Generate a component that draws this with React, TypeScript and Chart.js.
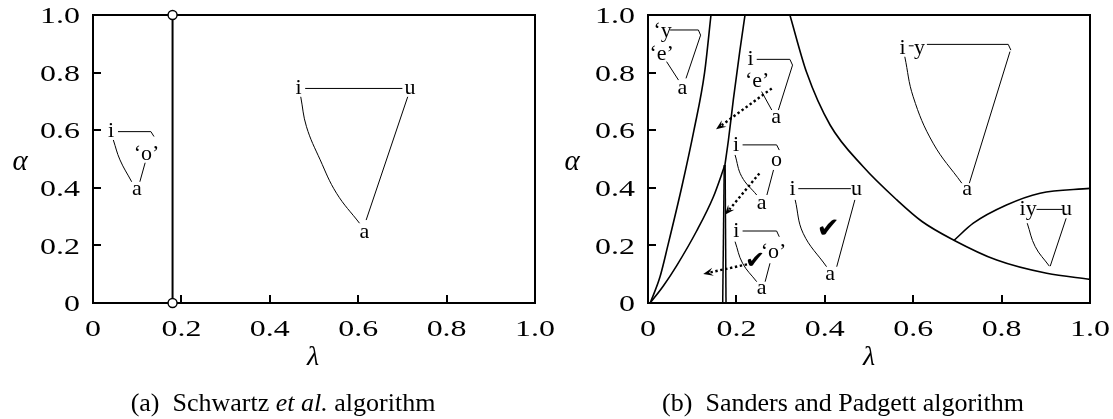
import React, { useEffect, useRef } from "react";
import { Chart, registerables } from "chart.js";
Chart.register(...registerables);

type P = [number, number];

const TICK_VALUES = [0, 0.2, 0.4, 0.6, 0.8, 1.0];
const INNER_TICKS = [0.2, 0.4, 0.6, 0.8];

// ---------- panel (a) ----------
const schwartzBoundary: P[] = [[0.18, 0], [0.18, 1.0]];
const schwartzCircles: P[] = [[0.18, 0], [0.18, 1.0]];
const aSmallTop: P[] = [[0.0565, 0.595], [0.131, 0.595], [0.138, 0.578]];
const aSmallLeft: P[] = [[0.046, 0.566], [0.061, 0.497], [0.0875, 0.421]];
const aSmallRight: P[] = [[0.118, 0.487], [0.106, 0.421]];
const aBigTop: P[] = [[0.48, 0.745], [0.70, 0.745]];
const aBigLeft: P[] = [[0.47, 0.716], [0.483, 0.612], [0.514, 0.497], [0.551, 0.381], [0.603, 0.277]];
const aBigRight: P[] = [[0.712, 0.716], [0.618, 0.288]];
const aLabels: [string, number, number][] = [
  ["i", 0.041, 0.595],
  ["\u2018o\u2019", 0.121, 0.514],
  ["a", 0.099, 0.392],
  ["i", 0.465, 0.745],
  ["u", 0.717, 0.745],
  ["a", 0.614, 0.243],
];

// ---------- panel (b) ----------
const bOuterCurve: P[] = [[0.005, 0], [0.027, 0.09], [0.045, 0.2], [0.076, 0.4], [0.104, 0.6], [0.128, 0.8], [0.1425, 1.0]];
const bInnerLower: P[] = [[0.005, 0], [0.035, 0.06], [0.065, 0.13], [0.11, 0.25], [0.148, 0.369], [0.174, 0.479]];
const bInnerUpper: P[] = [[0.174, 0.479], [0.182, 0.566], [0.193, 0.705], [0.208, 0.878], [0.2195, 1.0]];
const bVertLeft: P[] = [[0.1725, 0.479], [0.169, 0]];
const bVertRight: P[] = [[0.1745, 0.479], [0.1765, 0]];
const bDecreasing: P[] = [[0.321, 1.0], [0.359, 0.8], [0.412, 0.618], [0.487, 0.473], [0.563, 0.358], [0.62, 0.283], [0.691, 0.219], [0.789, 0.149], [0.902, 0.103], [1.0, 0.082]];
const bBranch: P[] = [[0.692, 0.217], [0.736, 0.277], [0.811, 0.34], [0.887, 0.381], [1.0, 0.398]];

const bTri1Top: P[] = [[0.05, 0.948], [0.114, 0.948], [0.119, 0.93]];
const bTri1Right: P[] = [[0.119, 0.93], [0.086, 0.78]];
const bTri1Left: P[] = [[0.042, 0.838], [0.069, 0.774]];
const bTri2Top: P[] = [[0.246, 0.846], [0.321, 0.846], [0.327, 0.826]];
const bTri2Right: P[] = [[0.327, 0.826], [0.295, 0.67]];
const bTri2Left: P[] = [[0.257, 0.734], [0.28, 0.67]];
const bTri3Top: P[] = [[0.214, 0.549], [0.291, 0.549], [0.297, 0.531]];
const bTri3Left: P[] = [[0.197, 0.514], [0.212, 0.439], [0.246, 0.375]];
const bTri3Right: P[] = [[0.284, 0.462], [0.269, 0.375]];
const bTri4Top: P[] = [[0.214, 0.25], [0.291, 0.25], [0.297, 0.23]];
const bTri4Left: P[] = [[0.197, 0.213], [0.214, 0.138], [0.246, 0.074]];
const bTri4Right: P[] = [[0.276, 0.138], [0.265, 0.074]];
const bTri5Top: P[] = [[0.34, 0.397], [0.459, 0.397]];
const bTri5Left: P[] = [[0.333, 0.358], [0.351, 0.242], [0.404, 0.126]];
const bTri5Right: P[] = [[0.468, 0.358], [0.427, 0.126]];
const bTri6Dash: P[] = [[0.59, 0.893], [0.601, 0.893]];
const bTri6Top: P[] = [[0.631, 0.898], [0.815, 0.898], [0.821, 0.878]];
const bTri6Left: P[] = [[0.581, 0.855], [0.6, 0.716], [0.645, 0.555], [0.71, 0.416]];
const bTri6Right: P[] = [[0.819, 0.873], [0.727, 0.416]];
const bTri7Top: P[] = [[0.879, 0.325], [0.938, 0.325]];
const bTri7Left: P[] = [[0.858, 0.277], [0.876, 0.196], [0.908, 0.128]];
const bTri7Right: P[] = [[0.946, 0.294], [0.91, 0.128]];

const bLabels: [string, number, number][] = [
  ["\u2018y", 0.033, 0.942],
  ["\u2018e\u2019", 0.031, 0.861],
  ["a", 0.078, 0.743],
  ["i", 0.232, 0.844],
  ["\u2018e\u2019", 0.247, 0.768],
  ["a", 0.29, 0.645],
  ["i", 0.199, 0.545],
  ["o", 0.291, 0.494],
  ["a", 0.257, 0.346],
  ["i", 0.2, 0.248],
  ["\u2018o\u2019", 0.284, 0.173],
  ["a", 0.257, 0.051],
  ["i", 0.327, 0.395],
  ["u", 0.472, 0.395],
  ["a", 0.412, 0.097],
  ["i", 0.576, 0.884],
  ["y", 0.614, 0.884],
  ["a", 0.722, 0.392],
  ["iy", 0.86, 0.323],
  ["u", 0.947, 0.323],
];
const bArrows: [P, P][] = [
  [[0.28, 0.745], [0.154, 0.603]],
  [[0.252, 0.45], [0.174, 0.306]],
  [[0.235, 0.138], [0.125, 0.101]],
];
const bChecks: [number, number, number][] = [
  [0.242, 0.143, 24],
  [0.408, 0.253, 28],
];

// ---------- helpers ----------
const SERIF = '"Liberation Serif", "Times New Roman", serif';
const LABEL_SIZE = 22;
const TICK_SIZE = 24;
const TICK_STRETCH = 1.33;

const pts = (a: P[]) => a.map(([x, y]) => ({ x, y }));
function line(data: P[], width: number, tension = 0, mono = false): any {
  return {
    data: pts(data),
    showLine: true,
    borderColor: "#000",
    borderWidth: width,
    pointRadius: 0,
    fill: false,
    tension,
    cubicInterpolationMode: mono ? "monotone" : "default",
  };
}
const fmt = (v: any) => (Number(v) === 0 ? "0" : Number(v).toFixed(1));

function decor(cfg: { labels: [string, number, number][]; arrows: [P, P][]; checks: [number, number, number][]; circles: P[] }) {
  return {
    id: "decor",
    afterDatasetsDraw(chart: any) {
      const { ctx, chartArea: ca } = chart;
      const xs = chart.scales.x;
      const ys = chart.scales.y;
      const X = (v: number) => xs.getPixelForValue(v);
      const Y = (v: number) => ys.getPixelForValue(v);
      ctx.save();
      // labels
      ctx.fillStyle = "#000";
      ctx.font = `${LABEL_SIZE}px ${SERIF}`;
      ctx.textAlign = "center";
      ctx.textBaseline = "alphabetic";
      for (const [t, lx, ly] of cfg.labels) ctx.fillText(t, X(lx), Y(ly) + LABEL_SIZE * 0.24);
      // checks
      for (const [cx, cy, size] of cfg.checks) {
        ctx.font = `${size}px "DejaVu Sans"`;
        ctx.textBaseline = "middle";
        ctx.fillText("\u2714", X(cx), Y(cy));
      }
      // dotted arrows
      for (const [[x1, y1], [x2, y2]] of cfg.arrows) {
        const ax = X(x1), ay = Y(y1), bx = X(x2), by = Y(y2);
        const ang = Math.atan2(by - ay, bx - ax);
        const hl = 10;
        const ex = bx - Math.cos(ang) * hl * 0.7, ey = by - Math.sin(ang) * hl * 0.7;
        ctx.strokeStyle = "#000";
        ctx.lineWidth = 2.4;
        ctx.setLineDash([2.4, 2.6]);
        ctx.beginPath();
        ctx.moveTo(ax, ay);
        ctx.lineTo(ex, ey);
        ctx.stroke();
        ctx.setLineDash([]);
        const c = Math.cos(ang), s = Math.sin(ang);
        ctx.beginPath();
        ctx.moveTo(bx, by);
        ctx.lineTo(bx - c * hl + s * 4, by - s * hl - c * 4);
        ctx.lineTo(bx - c * hl * 0.6, by - s * hl * 0.6);
        ctx.lineTo(bx - c * hl - s * 4, by - s * hl + c * 4);
        ctx.closePath();
        ctx.fill();
      }
      // frame
      ctx.strokeStyle = "#000";
      ctx.lineWidth = 2;
      ctx.strokeRect(ca.left, ca.top, ca.right - ca.left, ca.bottom - ca.top);
      // inward ticks
      ctx.beginPath();
      for (const v of INNER_TICKS) {
        const px = Math.round(X(v));
        ctx.moveTo(px, ca.bottom);
        ctx.lineTo(px, ca.bottom - 8);
        const py = Math.round(Y(v));
        ctx.moveTo(ca.left, py);
        ctx.lineTo(ca.left + 8, py);
      }
      ctx.stroke();
      // tick labels from the scales' ticks (stretched serif as in the reference)
      ctx.font = `${TICK_SIZE}px ${SERIF}`;
      ctx.textBaseline = "alphabetic";
      ctx.fillStyle = "#000";
      const base = TICK_SIZE * 0.338;
      ctx.textAlign = "center";
      for (const t of xs.ticks) {
        ctx.save();
        ctx.translate(X(t.value), ca.bottom + 25 + base);
        ctx.scale(TICK_STRETCH, 1);
        ctx.fillText(fmt(t.value), 0, 0);
        ctx.restore();
      }
      ctx.textAlign = "right";
      for (const t of ys.ticks) {
        ctx.save();
        ctx.translate(ca.left - 13, Y(t.value) + base);
        ctx.scale(TICK_STRETCH, 1);
        ctx.fillText(fmt(t.value), 0, 0);
        ctx.restore();
      }
      // open circles
      for (const [cx, cy] of cfg.circles) {
        ctx.beginPath();
        ctx.arc(X(cx), Y(cy), 4.5, 0, Math.PI * 2);
        ctx.fillStyle = "#fff";
        ctx.fill();
        ctx.lineWidth = 1.4;
        ctx.stroke();
      }
      ctx.restore();
    },
  };
}

function makeOptions(yWidth: number, padRight: number): any {
  return {
    responsive: false,
    maintainAspectRatio: false,
    animation: false,
    events: [],
    layout: { padding: { left: 0, right: padRight, top: 15, bottom: 0 } },
    plugins: { legend: { display: false }, tooltip: { enabled: false }, title: { display: false } },
    scales: {
      x: {
        type: "linear",
        min: 0,
        max: 1,
        afterBuildTicks: (s: any) => {
          s.ticks = TICK_VALUES.map((v) => ({ value: v }));
        },
        afterFit: (s: any) => {
          s.height = 116;
        },
        grid: { display: false, drawTicks: false },
        border: { display: false },
        ticks: { display: false, callback: fmt },
      },
      y: {
        type: "linear",
        min: 0,
        max: 1,
        afterBuildTicks: (s: any) => {
          s.ticks = TICK_VALUES.map((v) => ({ value: v }));
        },
        afterFit: (s: any) => {
          s.width = yWidth;
        },
        grid: { display: false, drawTicks: false },
        border: { display: false },
        ticks: { display: false, callback: fmt },
      },
    },
  };
}

function datasetsA() {
  return [
    line(schwartzBoundary, 2),
    line(aSmallTop, 1),
    line(aSmallLeft, 1, 0.4),
    line(aSmallRight, 1),
    line(aBigTop, 1),
    line(aBigLeft, 1, 0.4),
    line(aBigRight, 1),
  ];
}
function datasetsB() {
  return [
    line(bOuterCurve, 1.6, 0, true),
    line(bInnerLower, 1.6, 0, true),
    line(bInnerUpper, 1.6, 0, true),
    line(bVertLeft, 1.5),
    line(bVertRight, 1.5),
    line(bDecreasing, 1.6, 0, true),
    line(bBranch, 1.6, 0, true),
    line(bTri1Top, 1),
    line(bTri1Right, 1),
    line(bTri1Left, 1),
    line(bTri2Top, 1),
    line(bTri2Right, 1),
    line(bTri2Left, 1),
    line(bTri3Top, 1),
    line(bTri3Left, 1, 0.4),
    line(bTri3Right, 1),
    line(bTri4Top, 1),
    line(bTri4Left, 1, 0.4),
    line(bTri4Right, 1),
    line(bTri5Top, 1),
    line(bTri5Left, 1, 0.4),
    line(bTri5Right, 1),
    line(bTri6Dash, 1),
    line(bTri6Top, 1),
    line(bTri6Left, 1, 0.4),
    line(bTri6Right, 1),
    line(bTri7Top, 1),
    line(bTri7Left, 1, 0.4),
    line(bTri7Right, 1),
  ];
}

function Panel(props: { left: number; width: number; which: "a" | "b" }) {
  const ref = useRef<HTMLCanvasElement>(null);
  useEffect(() => {
    const isA = props.which === "a";
    const chart = new Chart(ref.current as HTMLCanvasElement, {
      type: "scatter",
      data: { datasets: isA ? datasetsA() : datasetsB() },
      options: isA ? makeOptions(93, 21) : makeOptions(92, 23),
      plugins: [
        decor(
          isA
            ? { labels: aLabels, arrows: [], checks: [], circles: schwartzCircles }
            : { labels: bLabels, arrows: bArrows, checks: bChecks, circles: [] }
        ),
      ],
    } as any);
    return () => chart.destroy();
  }, []);
  return (
    <canvas
      ref={ref}
      width={props.width}
      height={419}
      style={{ position: "absolute", left: props.left, top: 0, width: props.width, height: 419 }}
    />
  );
}

const txt = (left: number, top: number, size: number, italic = false): React.CSSProperties => ({
  position: "absolute",
  left,
  top,
  transform: "translate(-50%, -50%)",
  fontFamily: SERIF,
  fontSize: size,
  fontStyle: italic ? "italic" : "normal",
  whiteSpace: "nowrap",
  lineHeight: 1,
  color: "#000",
});

export default function App() {
  return (
    <div style={{ position: "fixed", left: 0, top: 0, width: 1113, height: 419, background: "#fff", overflow: "hidden" }}>
      <Panel left={0} width={556} which="a" />
      <Panel left={556} width={557} which="b" />
      <span style={txt(20, 160, 29, true)}>α</span>
      <span style={txt(572, 160, 29, true)}>α</span>
      <span style={txt(313, 356, 28, true)}>λ</span>
      <span style={txt(869, 356, 28, true)}>λ</span>
      <span style={txt(283, 403, 26)}>
        (a)&nbsp; Schwartz <i>et al.</i> algorithm
      </span>
      <span style={txt(843, 403, 26)}>(b)&nbsp; Sanders and Padgett algorithm</span>
    </div>
  );
}
